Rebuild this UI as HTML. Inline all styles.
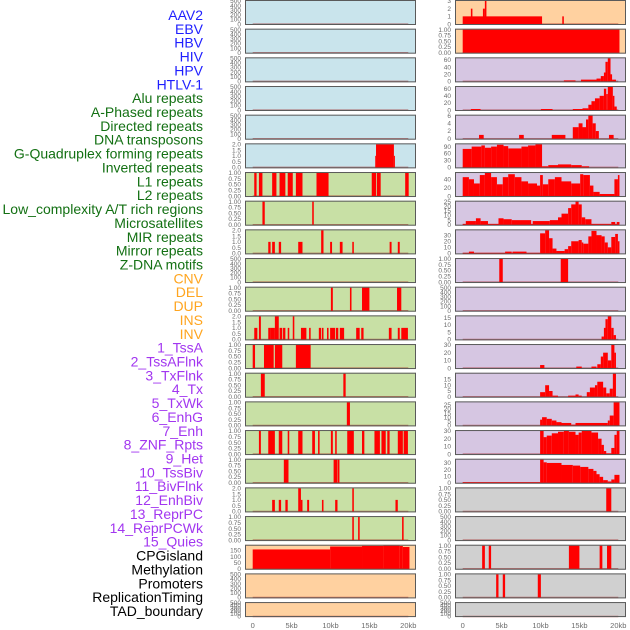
<!DOCTYPE html>
<html><head><meta charset="utf-8"><style>
html,body{margin:0;padding:0;background:#fff;width:630px;height:630px;overflow:hidden}
svg{display:block;font-family:"Liberation Sans",sans-serif}
</style></head><body>
<svg id="chart" width="630" height="630" viewBox="0 0 630 630"></svg>
<script>
const trackLabels=["AAV2","EBV","HBV","HIV","HPV","HTLV-1","Alu repeats","A-Phased repeats","Directed repeats","DNA transposons","G-Quadruplex forming repeats","Inverted repeats","L1 repeats","L2 repeats","Low_complexity A/T rich regions","Microsatellites","MIR repeats","Mirror repeats","Z-DNA motifs","CNV","DEL","DUP","INS","INV","1_TssA","2_TssAFlnk","3_TxFlnk","4_Tx","5_TxWk","6_EnhG","7_Enh","8_ZNF_Rpts","9_Het","10_TssBiv","11_BivFlnk","12_EnhBiv","13_ReprPC","14_ReprPCWk","15_Quies","CPGisland","Methylation","Promoters","ReplicationTiming","TAD_boundary"];
const labelGroups=[0,0,0,0,0,0,1,1,1,1,1,1,1,1,1,1,1,1,1,2,2,2,2,2,3,3,3,3,3,3,3,3,3,3,3,3,3,3,3,4,4,4,4,4];
const groupColors=["#1f1fff","#137013","#ffa51f","#a236f0","#000000"];
const xTicks=[0,5,10,15,20];
const xTickLabels=["0","5kb","10kb","15kb","20kb"];
const E5=[0,100,200,300,400,500],U1=[0,0.25,0.5,0.75,1],T2=[0,0.5,1,1.5,2];
const trackTicks=[E5,E5,E5,E5,E5,T2,U1,U1,T2,E5,U1,T2,U1,U1,U1,U1,U1,T2,U1,[0,50,100,150],E5,E5,
[0,1,2,3],U1,[0,20,40,60],[0,20,40,60],[0,2,4,6],[0,30,60,90],[0,20,40],[0,5,10,15,20,25],[0,10,20,30],U1,E5,[0,5,10,15],[0,10,20,30],[0,5,10,15],[0,5,10,15,20,25],[0,10,20,30],[0,10,20,30],U1,E5,U1,U1,E5];
const trackBg=["b","b","b","b","b","b","g","g","g","g","g","g","g","g","g","g","g","g","g","o","o","o",
"o","o","p","p","p","p","p","p","p","p","p","p","p","p","p","p","p","s","s","s","s","s"];
// segments [start_kb, end_kb, value]
const trackSegs=[
[],[],[],[],[],
[[15.75,15.85,1],[15.85,18.15,2],[18.15,18.25,1]],
[[0.2,0.5,1],[0.8,1.25,1],[2.5,3.05,1],[3.45,4.2,1],[4.5,5.15,1],[5.55,6.4,1],[8.2,9.75,1],[15.3,15.85,1],[15.95,16.45,1],[19.6,20.05,1]],
[[1.25,1.55,1],[7.65,7.85,1]],
[[2.0,2.3,1],[2.5,2.85,1],[3.35,3.65,1],[5.85,6.4,1],[8.8,9.1,2],[9.95,10.2,1],[11.2,11.55,1],[12.8,13.0,1],[17.6,17.85,1],[18.65,18.9,1]],
[],
[[10.05,10.3,1],[12.5,12.7,1],[14.05,15.0,1],[18.55,19.1,1]],
[[0.2,0.6,1],[0.8,1.05,2],[2.0,2.3,1],[2.3,2.85,1],[2.85,3.35,2],[3.45,3.8,1],[3.9,4.2,1],[4.5,4.7,1],[5.15,5.35,2],[6.2,6.9,1],[7.25,7.45,1],[8.5,8.8,1],[8.9,9.1,1],[9.55,9.75,1],[9.95,10.6,1],[10.7,11.0,1],[11.2,11.75,1],[13.3,13.75,1],[13.95,14.25,1],[17.5,17.85,1],[18.65,18.9,1],[19.1,19.95,1]],
[[0,0.3,1],[1.45,2.7,1],[2.85,3.8,1],[5.55,7.45,1]],
[[1.05,1.55,1],[11.65,11.95,1]],
[[12.1,12.5,1]],
[[0.8,1.05,1],[2.0,2.85,1],[3.35,3.8,1],[4.5,4.7,1],[5.85,6.4,1],[7.65,8.0,1],[8.4,8.6,1],[10.05,10.3,1],[10.6,10.8,1],[12.15,13.0,1],[14.05,14.35,1],[15.65,16.35,1],[16.55,17.1,1],[17.3,17.6,1],[18.65,19.3,1],[19.4,19.95,1]],
[[4.0,4.6,1],[10.4,10.9,1],[10.95,11.15,1]],
[[2.5,2.85,1],[3.35,3.65,1],[4.2,4.5,1],[5.85,6.2,2],[6.2,6.4,1],[7.0,7.25,1],[8.9,9.1,1],[10.6,10.9,1],[12.8,13.0,2],[18.35,18.65,1]],
[[12.8,13.0,1],[13.55,13.75,1],[19.2,19.4,1]],
[[0,9.95,158],[9.95,14.05,182],[14.05,16.8,187],[16.8,18.9,189],[18.9,19.3,186],[19.3,20.15,178]],
[],[],
[[0,10.2,1],[1.05,1.25,2],[2.6,2.85,2],[2.85,3.05,3],[12.8,13.0,1]],
[[0,20.15,1]],
[[13.0,14.5,3],[15.2,17.2,5],[17.2,17.75,8],[17.75,18.15,15],[18.15,18.35,25],[18.35,18.65,55],[18.65,19.0,65],[19.0,19.2,20],[19.2,19.7,5]],
[[1.05,2.3,3],[10.05,11.55,3],[14.15,15.4,3],[15.4,16.15,5],[16.15,16.55,15],[16.55,17.0,25],[17.0,17.6,33],[17.6,18.15,40],[18.15,18.45,60],[18.45,18.65,45],[18.65,19.3,65],[19.3,19.5,40],[19.5,19.8,10]],
[[2.1,2.7,1],[7.25,7.85,1],[11.45,13.2,1],[14.15,14.9,3],[14.9,15.4,4],[15.4,15.85,3],[15.85,16.15,5],[16.15,16.7,6],[16.7,17.1,4],[17.1,17.5,2],[18.8,19.4,1]],
[[0,1.15,80],[1.15,2.4,90],[2.4,2.85,95],[2.85,3.65,85],[3.65,4.4,90],[4.4,5.25,98],[5.25,5.85,92],[5.85,7.55,82],[7.55,8.4,90],[8.4,9.35,95],[9.35,10.2,100],[10.2,11.0,5],[11.0,12.25,10],[12.25,13.95,13],[13.95,15.3,10],[15.3,16.25,5]],
[[0,0.8,45],[0.8,1.45,40],[1.45,2.2,30],[2.2,2.85,50],[2.85,3.65,55],[3.65,4.4,45],[4.4,5.15,28],[5.15,5.85,45],[5.85,6.7,52],[6.7,7.55,45],[7.55,8.4,35],[8.4,9.55,30],[9.55,9.95,25],[9.95,10.3,50],[10.3,11.0,28],[11.0,11.85,40],[11.85,12.7,45],[12.7,13.95,35],[13.95,15.1,30],[15.1,15.5,52],[15.5,16.35,50],[16.35,16.8,25],[16.8,17.6,10],[17.6,19.5,5],[19.5,19.95,40],[19.95,20.15,50]],
[[0,0.4,1],[0.4,1.7,4],[1.7,2.3,7],[2.3,3.25,4],[3.25,4.6,1],[4.6,5.25,7],[5.25,6.3,6],[6.3,8.8,5],[8.8,9.0,1],[9.0,11.2,4],[11.2,12.25,5],[12.25,12.7,8],[12.7,13.55,12],[13.55,13.95,18],[13.95,14.5,22],[14.5,14.9,25],[14.9,15.3,22],[15.3,15.75,8],[15.75,16.55,6],[16.55,19.1,1],[19.1,19.6,3],[19.6,19.8,1],[19.8,20.15,3]],
[[0,0.8,1],[0.8,1.45,3],[1.45,5.45,1],[5.45,6.3,3],[6.3,6.4,1],[6.4,8.2,3],[8.2,9.95,1],[9.95,10.6,33],[10.6,11.1,38],[11.1,11.55,25],[11.55,12.05,8],[12.05,13.1,4],[13.1,13.55,7],[13.55,13.95,12],[13.95,14.9,20],[14.9,15.3,22],[15.3,15.5,18],[15.5,16.15,16],[16.15,16.55,28],[16.55,17.2,37],[17.2,17.85,30],[17.85,18.25,28],[18.25,18.65,18],[18.65,19.1,10],[19.1,19.6,27],[19.6,19.95,32],[19.95,20.15,20]],
[[4.7,5.15,1],[12.6,13.55,1]],
[],
[[17.85,18.15,2],[18.15,18.35,8],[18.35,18.65,14],[18.65,19.1,16],[19.1,19.4,8],[19.4,19.7,3]],
[[9.95,10.5,4],[14.6,15.3,2],[16.55,17.2,2],[17.3,17.75,5],[17.75,18.05,15],[18.05,18.65,20],[18.65,19.1,10],[19.1,19.5,30],[19.5,19.7,20]],
[[9.95,10.6,4],[10.6,11.1,10],[11.1,11.55,5],[11.55,12.25,1],[13.55,14.5,1],[14.5,14.9,2],[14.9,15.3,1],[15.95,16.35,4],[16.35,17.0,8],[17.0,17.3,10],[17.3,18.05,13],[18.05,18.45,8],[18.45,18.9,3],[18.9,19.3,7],[19.3,19.7,20]],
[[9.95,10.2,7],[10.2,10.8,10],[10.8,11.45,8],[11.45,12.05,6],[12.05,12.7,4],[12.7,13.95,3],[13.95,14.5,1],[14.5,18.65,3],[18.65,18.9,6],[18.9,19.4,12],[19.4,20.15,28]],
[[9.95,10.4,30],[10.4,10.8,22],[10.8,11.45,24],[11.45,12.25,27],[12.25,13.0,29],[13.0,13.65,30],[13.65,14.5,29],[14.5,14.9,25],[14.9,15.3,28],[15.3,16.55,30],[16.55,17.4,28],[17.4,17.85,20],[17.85,18.15,12],[18.15,18.45,4],[18.45,19.1,1],[19.1,19.5,8],[19.5,19.8,25],[19.8,20.15,30]],
[[0,9.95,1],[9.95,10.4,35],[10.4,10.8,31],[10.8,12.7,30],[12.7,14.15,27],[14.15,15.1,26],[15.1,16.15,24],[16.15,16.8,21],[16.8,17.2,18],[17.2,17.6,13],[17.6,18.05,9],[18.05,18.65,4],[18.65,19.1,2],[19.1,19.5,5],[19.5,20.15,12]],
[[18.45,19.1,1]],
[],
[[2.5,2.85,1],[3.35,3.65,1],[13.65,15.0,1],[17.6,17.95,1],[18.55,19.1,1]],
[[4.3,4.6,1],[5.15,5.45,1],[9.65,10.05,1]],
[]
];

const NS="http://www.w3.org/2000/svg";
const svg=document.getElementById("chart");
function mk(tag,attrs,parent){const e=document.createElementNS(NS,tag);for(const k in attrs)e.setAttribute(k,attrs[k]);(parent||svg).appendChild(e);return e;}
const bgMap={b:"#c9e4ec",g:"#c8e0a5",o:"#ffd1a0",p:"#d6c6e2",s:"#d0d0d0"};
const colX=[245,455],panelW=171,rowStep=28.67,kbPx=7.78,x0Off=7.7;
function xScale(col,kb){return colX[col]+x0Off+kb*kbPx;}

trackLabels.forEach((t,i)=>{
  const el=mk("text",{x:203,y:15+i*13.86+5,"text-anchor":"end","font-size":"14",fill:groupColors[labelGroups[i]]});
  el.textContent=t;
  
  
});

for(let ti=0;ti<44;ti++){
  const col=ti<22?0:1,row=ti%22;
  const top=row*rowStep,h=row===21?15:25,px=colX[col];
  const g=mk("g",{});
  
  
  mk("rect",{x:px,y:top,width:panelW,height:h,fill:bgMap[trackBg[ti]]},g);
  const segs=trackSegs[ti],ticks=trackTicks[ti];
  let D=0;segs.forEach(s=>{if(s[2]>D)D=s[2];});
  if(D===0)D=ticks[ticks.length-1];
  const lo=-0.04*D,hi=1.04*D;
  const yS=v=>top+h-(v-lo)/(hi-lo)*h;
  mk("line",{x1:xScale(col,0),x2:xScale(col,20),y1:yS(0),y2:yS(0),stroke:"rgba(150,0,0,0.45)","stroke-width":1.5},g);
  segs.forEach(s=>{
    const x1=xScale(col,s[0]),x2=xScale(col,s[1]);
    const r=mk("rect",{x:x1,y:yS(s[2]),width:Math.max(1,x2-x1),height:yS(0)-yS(s[2])+0.5,fill:"#ff0000"},g);
    
    
  });
  mk("rect",{x:px+0.5,y:top+0.5,width:panelW-1,height:h-1,fill:"none",stroke:"#5a5a5a","stroke-width":1},g);
  const dec=ticks.includes(0.25)?2:(ticks.includes(0.5)?1:0);
  ticks.forEach(v=>{
    const tx=mk("text",{x:px-4,y:yS(v)+2.2,"text-anchor":"end","font-size":"6.5",fill:"#6b6b6b"},g);
    tx.textContent=v.toFixed(dec);
    
    
  });
}
for(let col=0;col<2;col++){
  xTicks.forEach((k,i)=>{
    const t=mk("text",{x:xScale(col,k),y:628,"text-anchor":"middle","font-size":"7.5",fill:"#6b6b6b"});
    t.textContent=xTickLabels[i];
    
    
  });
}
</script>
</body></html>
